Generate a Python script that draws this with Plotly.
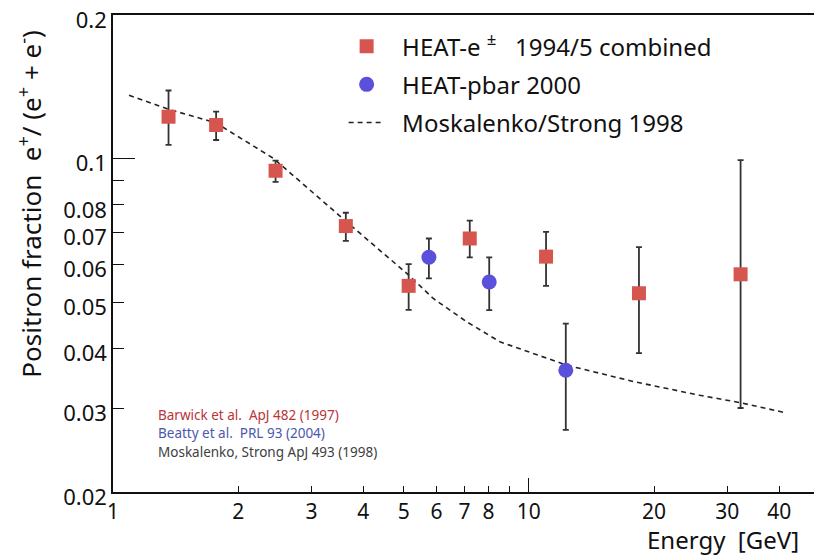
import numpy as np
import plotly.graph_objects as go

# HEAT-e± 1994/5 combined
e_energy = [1.36, 1.77, 2.46, 3.63, 5.14, 7.21, 11.0, 18.4, 32.3]
e_frac = [0.1224, 0.1176, 0.0943, 0.0722, 0.0541, 0.0680, 0.0623, 0.0522, 0.0572]
e_hi = [0.1389, 0.1254, 0.0990, 0.0770, 0.0601, 0.0741, 0.0702, 0.0652, 0.0993]
e_lo = [0.1068, 0.1094, 0.0894, 0.0672, 0.0482, 0.0621, 0.0541, 0.0391, 0.0300]

# HEAT-pbar 2000
p_energy = [5.75, 8.03, 12.27]
p_frac = [0.0621, 0.0551, 0.0360]
p_hi = [0.0680, 0.0621, 0.0451]
p_lo = [0.0561, 0.0481, 0.0270]

# Moskalenko/Strong 1998 model
m_energy = [1.093, 1.363, 1.765, 2.428, 3.645, 5.14, 5.89, 7.085, 8.52, 12.32, 17.81, 25.76, 32.15, 41.6]
m_frac = [0.1357, 0.1268, 0.1189, 0.1002, 0.0737, 0.0570, 0.0509, 0.0455, 0.0413, 0.0369, 0.0341, 0.0319, 0.0308, 0.0293]

x_tickvals = [1, 2, 3, 4, 5, 6, 7, 8, 9, 10, 20, 30, 40]
x_ticktext = ["1", "2", "3", "4", "5", "6", "7", "8", "", "10", "20", "30", "40"]
y_tickvals = [0.02, 0.03, 0.04, 0.05, 0.06, 0.07, 0.08, 0.09, 0.1, 0.2]
y_ticktext = ["0.02", "0.03", "0.04", "0.05", "0.06", "0.07", "0.08", "", "0.1", "0.2"]

FONT = "Noto Sans"
RED = "#d6554f"
BLUE = "#5a50dc"

fig = go.Figure()

fig.add_trace(go.Scatter(
    x=m_energy, y=m_frac, mode="lines", name="  Moskalenko/Strong 1998",
    line=dict(color="#222222", width=1.6, dash="5px,4px"),
    legendgroup="c", legendrank=3,
))
fig.add_trace(go.Scatter(
    x=e_energy, y=e_frac, mode="markers", name="  HEAT-e <sup>±</sup>   1994/5 combined",
    marker=dict(symbol="square", size=14, color=RED),
    error_y=dict(type="data", symmetric=False,
                 array=list(np.array(e_hi) - np.array(e_frac)),
                 arrayminus=list(np.array(e_frac) - np.array(e_lo)),
                 color="#333333", thickness=1.8, width=3),
    legendgroup="a", legendrank=1,
))
fig.add_trace(go.Scatter(
    x=p_energy, y=p_frac, mode="markers", name="  HEAT-pbar 2000",
    marker=dict(symbol="circle", size=15, color=BLUE),
    error_y=dict(type="data", symmetric=False,
                 array=list(np.array(p_hi) - np.array(p_frac)),
                 arrayminus=list(np.array(p_frac) - np.array(p_lo)),
                 color="#333333", thickness=1.8, width=3),
    legendgroup="b", legendrank=2,
))
# helper trace for long major ticks on overlay axes
fig.add_trace(go.Scatter(x=[10], y=[0.1], xaxis="x2", yaxis="y2", mode="markers",
                         marker=dict(opacity=0), showlegend=False, hoverinfo="skip"))

xr = [0, np.log10(48.5)]
yr = [np.log10(0.02), np.log10(0.2)]

fig.update_layout(
    width=814, height=555,
    margin=dict(l=113, r=0, t=15, b=63),
    paper_bgcolor="white", plot_bgcolor="white",
    font=dict(family=FONT, color="#111111"),
    showlegend=True,
    legend=dict(x=0.329, y=0.981, xanchor="left", yanchor="top",
                font=dict(size=24, family=FONT, color="#111111"),
                itemwidth=36,
                bgcolor="rgba(0,0,0,0)", tracegroupgap=4, traceorder="grouped"),
    xaxis=dict(type="log", range=xr, tickvals=x_tickvals, ticktext=x_ticktext,
               ticks="inside", ticklen=6, tickwidth=1.2, tickcolor="#111",
               showline=True, linecolor="#111", linewidth=1.5, mirror=True,
               showgrid=False, zeroline=False, tickfont=dict(size=21, family=FONT)),
    yaxis=dict(type="log", range=yr, tickvals=y_tickvals, ticktext=y_ticktext,
               ticks="inside", ticklen=11, tickwidth=1.2, tickcolor="#111",
               ticklabelshift=5,
               showline=True, linecolor="#111", linewidth=1.5,
               showgrid=False, zeroline=False, tickfont=dict(size=22, family=FONT)),
    xaxis2=dict(type="log", range=xr, overlaying="x", anchor="y2", side="bottom",
                tickvals=[10], showticklabels=False, ticks="inside", ticklen=14,
                tickwidth=1.2, tickcolor="#111", showgrid=False, showline=False, zeroline=False),
    yaxis2=dict(type="log", range=yr, overlaying="y", anchor="x2", side="left",
                tickvals=[0.1], showticklabels=False, ticks="inside", ticklen=22,
                tickwidth=1.2, tickcolor="#111", showgrid=False, showline=False, zeroline=False),
)

fig.add_annotation(
    text="Positron fraction  e<sup>+</sup>/ (e<sup>+</sup> + e<sup>-</sup>)",
    xref="paper", yref="paper", x=-0.118, y=0.605, textangle=-90,
    showarrow=False, font=dict(size=26, family=FONT, color="#111"),
    xanchor="center", yanchor="middle",
)
fig.add_annotation(
    text="Energy  [GeV]", xref="paper", yref="paper", x=0.981, y=-0.099,
    xanchor="right", yanchor="middle", showarrow=False,
    font=dict(size=24, family=FONT, color="#111"),
)
refs = [("Barwick et al.  ApJ 482 (1997)", "#b83538", 0.1614),
        ("Beatty et al.  PRL 93 (2004)", "#4a58ac", 0.1237),
        ("Moskalenko, Strong ApJ 493 (1998)", "#404040", 0.0839)]
for txt, col, yy in refs:
    fig.add_annotation(text=txt, xref="paper", yref="paper", x=0.061, y=yy,
                       xanchor="left", yanchor="middle", showarrow=False,
                       font=dict(size=13.5, family=FONT, color=col))

fig.write_html("out.html")
